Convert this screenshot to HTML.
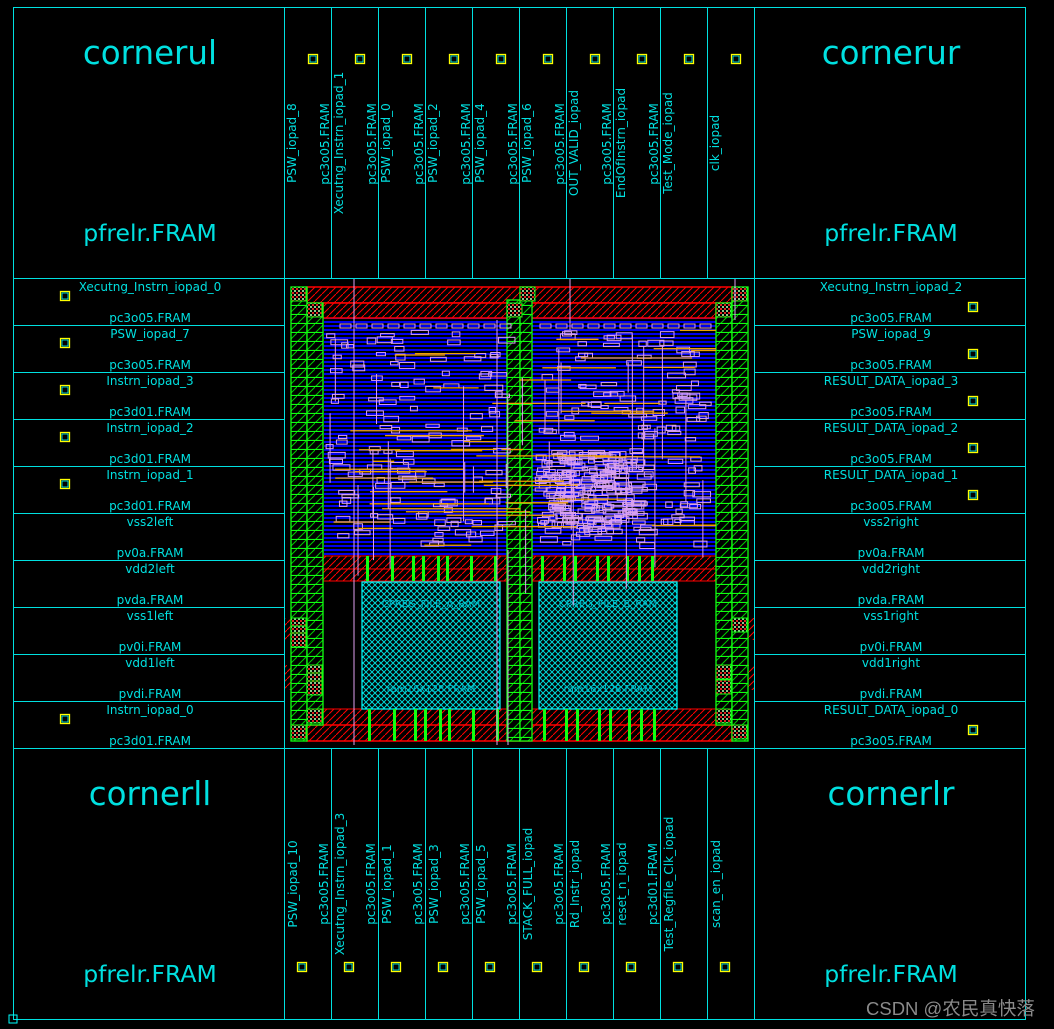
<!DOCTYPE html>
<html><head><meta charset="utf-8"><style>
html,body{margin:0;padding:0;background:#000;}
svg{display:block;}
text{font-family:"DejaVu Sans","Liberation Sans","Noto Sans CJK SC",sans-serif;fill:#00e0e0;}
</style></head><body>
<svg id="s" width="1054" height="1029" viewBox="0 0 1054 1029" xmlns="http://www.w3.org/2000/svg">
<defs>
<pattern id="rh" width="7" height="7" patternUnits="userSpaceOnUse"><rect width="7" height="7" fill="#000"/><path d="M0 7L7 0" stroke="#f00" stroke-width="1"/></pattern>
<pattern id="gh" width="9" height="9" patternUnits="userSpaceOnUse"><rect width="9" height="9" fill="#000"/><path d="M0 9L9 0" stroke="#0c0" stroke-width="1"/><path d="M0 8.5H9" stroke="#1f1" stroke-width="1.2"/></pattern>
<pattern id="ch" width="6" height="6" patternUnits="userSpaceOnUse"><rect width="6" height="6" fill="#000"/><path d="M0 0L6 6M6 0L0 6" stroke="#00d8d8" stroke-width="1"/></pattern>
<pattern id="bl" width="4" height="4" patternUnits="userSpaceOnUse"><rect width="4" height="4" fill="#000"/><rect y="1" width="4" height="2" fill="#0000f0"/></pattern>
<pattern id="ck" width="4" height="4" patternUnits="userSpaceOnUse"><rect width="4" height="4" fill="#000"/><rect width="2" height="2" fill="#d22"/><rect x="2" y="2" width="2" height="2" fill="#8c8"/></pattern>
</defs>
<rect width="1054" height="1029" fill="#000"/>
<g id="core"></g>
<g id="grid" stroke="#00e0e0" stroke-width="1" fill="none"></g>
<g id="txt"></g>
<text x="866" y="1015" style="fill:#8a8a8a;font-size:18.5px;font-family:'Liberation Sans','Noto Sans CJK SC',sans-serif">CSDN @农民真快落</text>
</svg>
<script>
(function(){
var NS="http://www.w3.org/2000/svg";
function el(p,t,a,txt){var e=document.createElementNS(NS,t);for(var k in a)e.setAttribute(k,a[k]);if(txt!=null)e.textContent=txt;document.getElementById(p).appendChild(e);return e;}
var G='grid';
el(G,'rect',{x:13.5,y:7.5,width:1012,height:1012});
[284.5,754.5].forEach(function(x){el(G,'line',{x1:x,y1:7,x2:x,y2:1019});});
[278.5,748.5].forEach(function(y){el(G,'line',{x1:13,y1:y,x2:1025,y2:y});});
for(var i=1;i<10;i++){var x=284.5+47*i;el(G,'line',{x1:x,y1:7,x2:x,y2:278});el(G,'line',{x1:x,y1:748,x2:x,y2:1019});
 var y=278.5+47*i;el(G,'line',{x1:13,y1:y,x2:284,y2:y});el(G,'line',{x1:754,y1:y,x2:1025,y2:y});}
var T='txt';
[[150,64,'cornerul'],[891,64,'cornerur'],[150,805,'cornerll'],[891,805,'cornerlr']].forEach(function(c){el(T,'text',{x:c[0],y:c[1],'text-anchor':'middle','font-size':32.5},c[2]);});
[[150,241],[891,241],[150,982],[891,982]].forEach(function(c){el(T,'text',{x:c[0],y:c[1],'text-anchor':'middle','font-size':23.5},'pfrelr.FRAM');});
function icon(x,y){el(T,'rect',{x:x-4.5,y:y-4.5,width:9,height:9,fill:'#000',stroke:'#ff0','stroke-width':1.3});el(T,'rect',{x:x-3,y:y-3,width:6,height:6,fill:'none',stroke:'#0ff','stroke-width':0.8});}
function vt(x,cy,s){el(T,'text',{x:0,y:0,'font-size':12,'text-anchor':'middle',transform:'translate('+x+','+cy+') rotate(-90)'},s);}
var tops=[['PSW_iopad_8','pc3o05.FRAM'],['Xecutng_Instrn_iopad_1','pc3o05.FRAM'],['PSW_iopad_0','pc3o05.FRAM'],['PSW_iopad_2','pc3o05.FRAM'],['PSW_iopad_4','pc3o05.FRAM'],['PSW_iopad_6','pc3o05.FRAM'],['OUT_VALID_iopad','pc3o05.FRAM'],['EndOfInstrn_iopad','pc3o05.FRAM'],['Test_Mode_iopad',''],['clk_iopad','']];
tops.forEach(function(p,i){var l=284+47*i;vt(l+12,143,p[0]);if(p[1])vt(l+45,144,p[1]);icon(l+29,59);});
var bot=[['PSW_iopad_10','pc3o05.FRAM'],['Xecutng_Instrn_iopad_3','pc3o05.FRAM'],['PSW_iopad_1','pc3o05.FRAM'],['PSW_iopad_3','pc3o05.FRAM'],['PSW_iopad_5','pc3o05.FRAM'],['STACK_FULL_iopad','pc3o05.FRAM'],['Rd_Instr_iopad','pc3o05.FRAM'],['reset_n_iopad','pc3d01.FRAM'],['Test_Regfile_Clk_iopad',''],['scan_en_iopad','']];
bot.forEach(function(p,i){var l=284+47*i;vt(l+13,884,p[0]);if(p[1])vt(l+44,884,p[1]);icon(l+18,967);});
var lefts=[['Xecutng_Instrn_iopad_0','pc3o05.FRAM',1],['PSW_iopad_7','pc3o05.FRAM',1],['Instrn_iopad_3','pc3d01.FRAM',1],['Instrn_iopad_2','pc3d01.FRAM',1],['Instrn_iopad_1','pc3d01.FRAM',1],['vss2left','pv0a.FRAM',0],['vdd2left','pvda.FRAM',0],['vss1left','pv0i.FRAM',0],['vdd1left','pvdi.FRAM',0],['Instrn_iopad_0','pc3d01.FRAM',1]];
lefts.forEach(function(p,i){var t=278+47*i;el(T,'text',{x:150,y:t+13,'text-anchor':'middle','font-size':12},p[0]);el(T,'text',{x:150,y:t+44,'text-anchor':'middle','font-size':12},p[1]);if(p[2])icon(65,t+18);});
var rights=[['Xecutng_Instrn_iopad_2','pc3o05.FRAM',1],['PSW_iopad_9','pc3o05.FRAM',1],['RESULT_DATA_iopad_3','pc3o05.FRAM',1],['RESULT_DATA_iopad_2','pc3o05.FRAM',1],['RESULT_DATA_iopad_1','pc3o05.FRAM',1],['vss2right','pv0a.FRAM',0],['vdd2right','pvda.FRAM',0],['vss1right','pv0i.FRAM',0],['vdd1right','pvdi.FRAM',0],['RESULT_DATA_iopad_0','pc3o05.FRAM',1]];
rights.forEach(function(p,i){var t=278+47*i;el(T,'text',{x:891,y:t+13,'text-anchor':'middle','font-size':12},p[0]);el(T,'text',{x:891,y:t+44,'text-anchor':'middle','font-size':12},p[1]);if(p[2])icon(973,t+29);});
el(T,'rect',{x:9,y:1015,width:8,height:8,fill:'none',stroke:'#0ff'});
var C='core';
function r(x,y,w,h,f,s,sw){el(C,'rect',{x:x,y:y,width:w,height:h,fill:f||'none',stroke:s||'none','stroke-width':sw||1});}
r(324,318,392,237,'url(#bl)');
r(307,287,425,16,'url(#rh)','#f00',1.5);r(323,303,393,15,'url(#rh)','#f00',1.5);
r(307,556,425,13,'url(#rh)','#f00',1);r(323,569,393,12,'url(#rh)','#f00',1);
r(323,709,393,16,'url(#rh)','#f00',1);r(307,725,425,16,'url(#rh)','#f00',1.5);
r(284,618,23,22,'url(#rh)');r(284,665,23,25,'url(#rh)');r(732,618,22,22,'url(#rh)');r(732,665,22,25,'url(#rh)');
[[291,287,16,454],[307,303,16,422],[716,303,16,422],[732,287,16,454],[507,300,13,441],[520,287,12,454]].forEach(function(g){r(g[0],g[1],g[2],g[3],'url(#gh)','#1f1',1.3);});
[[291,287],[732,287],[307,303],[716,303],[291,725],[732,725],[307,709],[716,709],[507,303],[520,287],[291,618],[291,626],[291,633],[307,665],[307,673],[307,681],[732,618],[716,665],[716,680]].forEach(function(c){r(c[0],c[1],15,14,'url(#ck)','#1f1',1);});
r(362,582,138,127,'url(#ch)','#0ff',1.2);r(539,582,138,127,'url(#ch)','#0ff',1.2);
el(C,'text',{x:431,y:607,'text-anchor':'middle','font-size':10,style:'fill:#00b8c8'},'CPREG_FILE_A_RAM');
el(C,'text',{x:608,y:607,'text-anchor':'middle','font-size':10,style:'fill:#00b8c8'},'CPREG_FILE_B_RAM');
el(C,'text',{x:431,y:692,'text-anchor':'middle','font-size':10,style:'fill:#00b8c8'},'ram16x128.FRAM');
el(C,'text',{x:608,y:692,'text-anchor':'middle','font-size':10,style:'fill:#00b8c8'},'ram16x128.FRAM');
[366,391,412,422,437,446,470,494,541,563,574,596,607,626,638,651].forEach(function(x){r(x,556,3,25,'#1f1');r(x+2,709,3,32,'#1f1');});
var sd=12345;function rnd(){sd=(sd*1103515245+12345)%2147483648;return sd/2147483648;}
for(var i=0;i<11;i++){r(340+i*16,324,11,4,'none','#d8a0f0');r(540+i*16,324,11,4,'none','#d8a0f0');}
for(var i=0;i<480;i++){var x,y;
 if(i<200){x=535+rnd()*100;y=450+rnd()*80;}else{x=325+rnd()*380;y=330+rnd()*220;}
 if(x>500&&x<532)continue;
 r(x,y,6+rnd()*12,3+rnd()*3,'none','#d8a0f0',1);}
for(var i=0;i<45;i++){var x=325+rnd()*370,y=330+rnd()*220;el(C,'line',{x1:x,y1:y,x2:Math.min(716,x+20+rnd()*120),y2:y,stroke:'#f0a000','stroke-width':1.3});}
for(var i=0;i<30;i++){var x=330+rnd()*380,y=330+rnd()*180;el(C,'line',{x1:x,y1:y,x2:x,y2:y+20+rnd()*120,stroke:'#e0a0f0','stroke-width':1});}
[[354,278,354,745],[570,278,570,330],[735,278,735,320],[497,320,497,745],[508,550,508,745]].forEach(function(l){el(C,'line',{x1:l[0],y1:l[1],x2:l[2],y2:l[3],stroke:'#e0a0f0','stroke-width':1});});
})();
</script>
</body></html>
